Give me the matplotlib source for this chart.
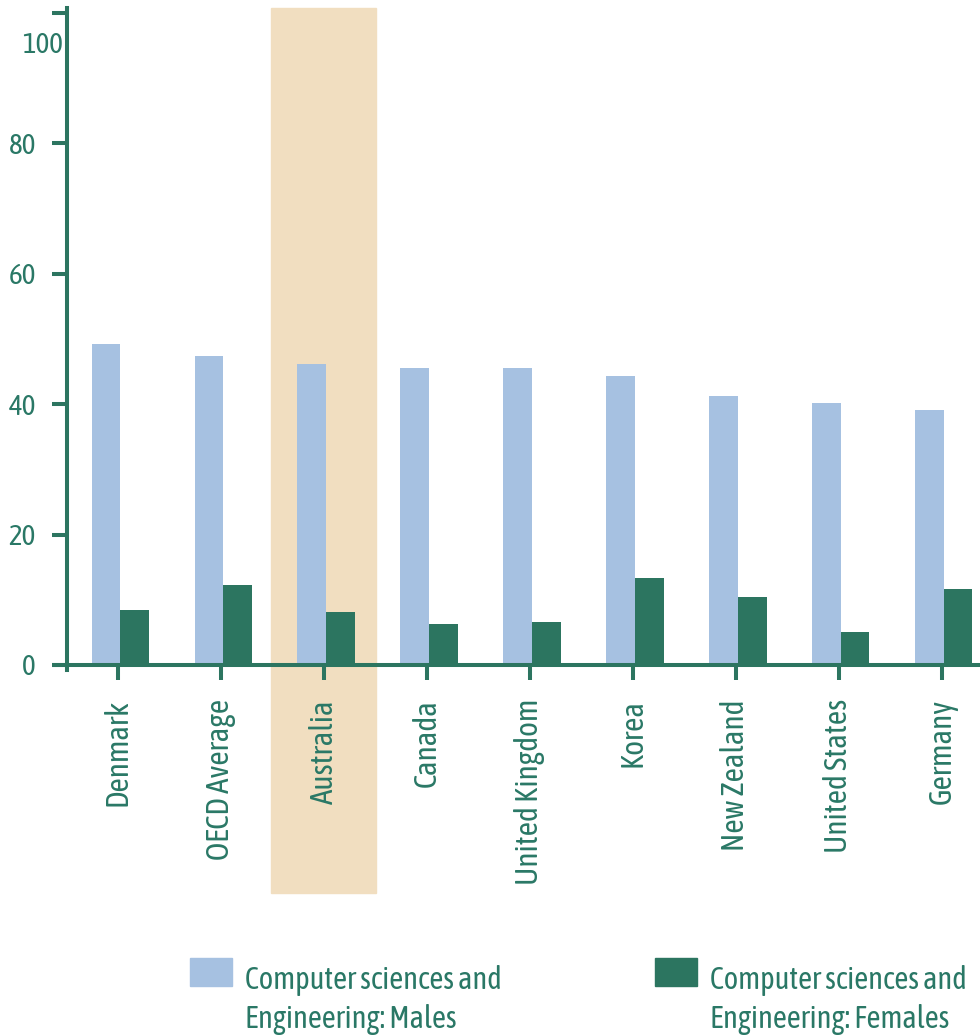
import matplotlib
matplotlib.use("Agg")
import matplotlib.pyplot as plt
from matplotlib.patches import Rectangle
from matplotlib.transforms import blended_transform_factory, ScaledTranslation
import numpy as np

plt.rcParams['font.family'] = ['Asap Condensed', 'Liberation Sans Narrow', 'DejaVu Sans']

countries = ["Denmark", "OECD Average", "Australia", "Canada", "United Kingdom",
             "Korea", "New Zealand", "United States", "Germany"]
males = [49.2, 47.4, 46.2, 45.5, 45.5, 44.3, 41.3, 40.2, 39.1]
females = [8.5, 12.3, 8.1, 6.3, 6.6, 13.4, 10.5, 5.1, 11.6]
legend_labels = ["Computer sciences and\nEngineering: Males",
                 "Computer sciences and\nEngineering: Females"]
highlight = "Australia"
yticks = [0, 20, 40, 60, 80, 100]

c_male = '#A6C1E1'
c_female = '#2C7560'
c_band = '#F1DEC0'
c_axis = '#2C7560'
c_text = '#2A7866'

W, H = 980, 1036
fig = plt.figure(figsize=(W / 100, H / 100), dpi=100)
ax = fig.add_axes([67 / W, 1 - 670 / H, 913 / W, (670 - 7.8) / H])

x = np.arange(len(countries))
w = 0.277
ax.bar(x - w / 2 + 0.02, males, width=w, color=c_male, zorder=2)
ax.bar(x + w / 2 + 0.02, females, width=w, color=c_female, zorder=2)

# highlight band, runs down behind the tick label
hi = countries.index(highlight)
tr = blended_transform_factory(ax.transData, fig.transFigure)
ax.add_patch(Rectangle((hi - 0.51, 1 - 893 / H), 1.02, (893 - 7.8) / H,
                       transform=tr, color=c_band, zorder=0, clip_on=False))

ax.set_xlim(-0.495, 8.37)
ax.set_ylim(-0.77, 100.8)

for s in ['top', 'right']:
    ax.spines[s].set_visible(False)
for s in ['left', 'bottom']:
    ax.spines[s].set_color(c_axis)
    ax.spines[s].set_linewidth(2.9)
    ax.spines[s].set_zorder(3)
ax.spines['bottom'].set_position(('data', 0))
# x axis line pokes out a bit left of the y axis
ax.plot([-0.016, 0], [0, 0], transform=blended_transform_factory(ax.transAxes, ax.transData),
        color=c_axis, lw=2.9, clip_on=False, solid_capstyle='butt')

ax.set_xticks(x)
ax.set_xticklabels(countries, rotation=90, fontsize=22.5, color=c_text)
ax.set_yticks(yticks)
ax.set_yticklabels([str(v) for v in yticks], fontsize=21, color=c_text)
ax.tick_params(axis='both', color=c_axis, width=2.9, length=10.5)
ax.tick_params(axis='x', pad=14)
ax.tick_params(axis='y', pad=12)

# the "100" label sits lower, next to the axis
lbl = ax.yaxis.get_major_ticks()[-1].label1
lbl.set_transform(lbl.get_transform() + ScaledTranslation(0.27, -0.29, fig.dpi_scale_trans))

# legend
for px, col, lab in [(190, c_male, legend_labels[0]), (655, c_female, legend_labels[1])]:
    fig.patches.append(Rectangle((px / W, 1 - 986 / H), 42 / W, 28 / H,
                                 transform=fig.transFigure, color=col))
    l1, l2 = lab.split("\n")
    fig.text((px + 55) / W, 1 - 989 / H, l1, fontsize=22, color=c_text, va='baseline')
    fig.text((px + 55) / W, 1 - 1028 / H, l2, fontsize=22, color=c_text, va='baseline')

fig.savefig("out.png", dpi=100)
